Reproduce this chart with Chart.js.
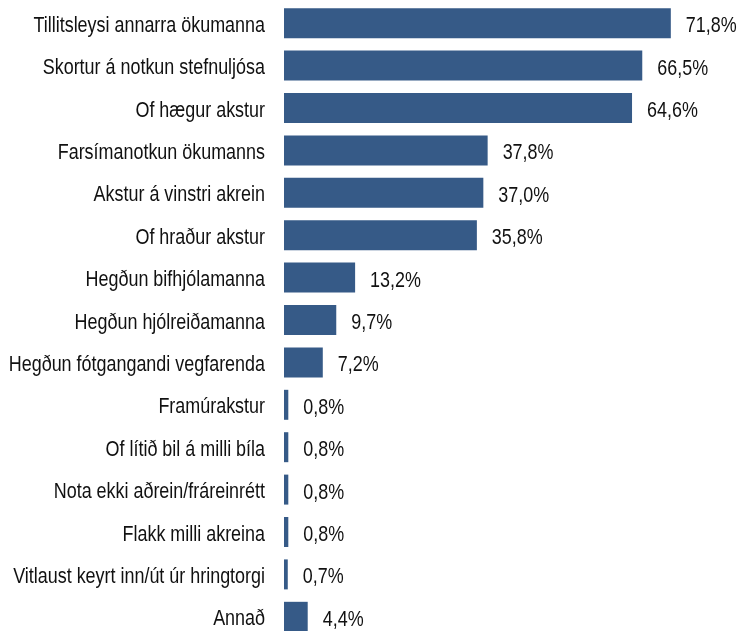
<!DOCTYPE html>
<html>
<head>
<meta charset="utf-8">
<script src="https://cdn.jsdelivr.net/npm/chart.js@4"></script>
<style>
html,body{margin:0;padding:0;background:#fff;overflow:hidden;}
#wrap{position:relative;width:739px;height:640px;}
</style>
</head>
<body>
<div id="wrap"><canvas id="c"></canvas></div>
<script>
const categories = [
  "Tillitsleysi annarra ökumanna",
  "Skortur á notkun stefnuljósa",
  "Of hægur akstur",
  "Farsímanotkun ökumanns",
  "Akstur á vinstri akrein",
  "Of hraður akstur",
  "Hegðun bifhjólamanna",
  "Hegðun hjólreiðamanna",
  "Hegðun fótgangandi vegfarenda",
  "Framúrakstur",
  "Of lítið bil á milli bíla",
  "Nota ekki aðrein/fráreinrétt",
  "Flakk milli akreina",
  "Vitlaust keyrt inn/út úr hringtorgi",
  "Annað"
];
const values = [71.8, 66.5, 64.6, 37.8, 37.0, 35.8, 13.2, 9.7, 7.2, 0.8, 0.8, 0.8, 0.8, 0.7, 4.4];

const FONT = "'Liberation Sans', Arial, sans-serif";
const FONT_SIZE = 22;
const SQUEEZE = 0.815;
const BASE_SHIFT = 8.5;
const TICK_GAP = 19;
const VALUE_GAP = 15;

// Category labels drawn at the y scale's own tick positions, horizontally condensed
const condensedLabels = {
  id: 'condensedLabels',
  afterDraw(chart) {
    const ctx = chart.ctx;
    const ys = chart.scales.y;
    const meta = chart.getDatasetMeta(0);
    ctx.save();
    ctx.font = FONT_SIZE + "px " + FONT;
    ctx.fillStyle = "#111";
    ctx.textBaseline = "alphabetic";
    ys.ticks.forEach((t, i) => {
      const y = ys.getPixelForTick(i);
      ctx.save();
      ctx.translate(ys.right - TICK_GAP, y + BASE_SHIFT);
      ctx.scale(SQUEEZE, 1);
      ctx.textAlign = "right";
      ctx.fillText(ys.getLabelForValue(t.value), 0, 0);
      ctx.restore();
    });
    meta.data.forEach((bar, i) => {
      const txt = values[i].toFixed(1).replace('.', ',') + '%';
      ctx.save();
      ctx.translate(bar.x + VALUE_GAP, bar.y + BASE_SHIFT + 0.5);
      ctx.scale(SQUEEZE, 1);
      ctx.textAlign = "left";
      ctx.fillText(txt, 0, 0);
      ctx.restore();
    });
    ctx.restore();
  }
};

new Chart(document.getElementById('c'), {
  type: 'bar',
  data: {
    labels: categories,
    datasets: [{
      data: values,
      backgroundColor: '#365A87',
      borderWidth: 0,
      categoryPercentage: 1,
      barPercentage: 0.707
    }]
  },
  options: {
    indexAxis: 'y',
    responsive: true,
    maintainAspectRatio: false,
    animation: false,
    layout: { padding: { top: 2, bottom: 2, left: 0, right: 24 } },
    plugins: { legend: { display: false }, tooltip: { enabled: false } },
    scales: {
      x: { display: false, min: 0, max: 80 },
      y: {
        grid: { display: false, drawTicks: false },
        border: { display: false },
        ticks: { display: false, autoSkip: false },
        afterFit(scale) { scale.width = 284; scale.paddingTop = 0; scale.paddingBottom = 0; }
      }
    }
  },
  plugins: [condensedLabels]
});
</script>
</body>
</html>
